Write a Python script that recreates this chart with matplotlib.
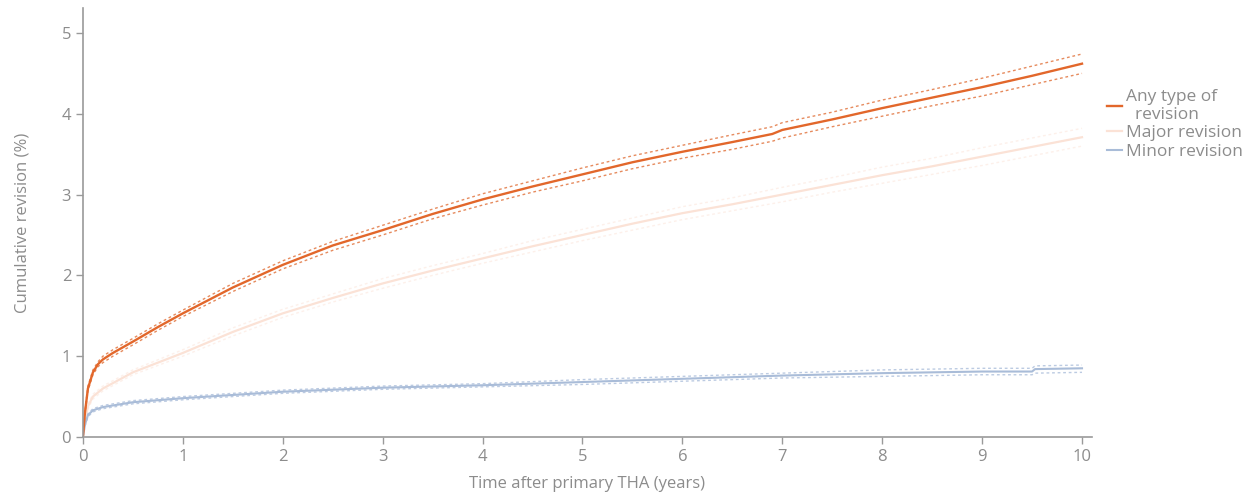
import matplotlib
matplotlib.use("Agg")
import matplotlib.pyplot as plt

plt.rcParams['font.family'] = ['Open Sans', 'DejaVu Sans']

# Cumulative revision (%) over years after primary THA, with 95% CI bounds
t_any = [0, 0.02, 0.05, 0.1, 0.15, 0.2, 0.3, 0.5, 0.75, 1, 1.5, 2, 2.5, 3, 3.5, 4,
         4.5, 5, 5.5, 6, 6.5, 6.9, 7, 7.5, 8, 8.5, 9, 9.5, 10]
any_mid = [0, 0.3, 0.6, 0.8, 0.9, 0.96, 1.04, 1.18, 1.36, 1.53, 1.85, 2.13, 2.37, 2.56,
           2.76, 2.94, 3.10, 3.25, 3.40, 3.53, 3.65, 3.75, 3.80, 3.93, 4.07, 4.20, 4.33,
           4.47, 4.62]
any_lo = [0, 0.28, 0.57, 0.77, 0.87, 0.92, 1.0, 1.14, 1.32, 1.49, 1.80, 2.08, 2.31, 2.50,
          2.70, 2.87, 3.03, 3.17, 3.32, 3.45, 3.56, 3.66, 3.70, 3.84, 3.97, 4.10, 4.22,
          4.36, 4.50]
any_hi = [0, 0.32, 0.63, 0.83, 0.93, 1.0, 1.08, 1.22, 1.40, 1.57, 1.90, 2.18, 2.42, 2.62,
          2.82, 3.01, 3.17, 3.33, 3.48, 3.61, 3.74, 3.84, 3.89, 4.02, 4.17, 4.30, 4.44,
          4.59, 4.74]

t_major = [0, 0.02, 0.05, 0.1, 0.2, 0.5, 1, 1.5, 2, 2.5, 3, 3.5, 4, 4.5, 5, 5.5, 6,
           6.5, 7, 7.5, 8, 8.5, 9, 9.5, 10]
major_mid = [0, 0.2, 0.38, 0.5, 0.6, 0.8, 1.04, 1.3, 1.53, 1.72, 1.9, 2.06, 2.21, 2.36,
             2.5, 2.64, 2.77, 2.88, 3.0, 3.12, 3.24, 3.35, 3.47, 3.59, 3.71]
major_lo = [0, 0.18, 0.35, 0.47, 0.57, 0.77, 1.0, 1.25, 1.48, 1.67, 1.84, 2.0, 2.15, 2.29,
            2.43, 2.56, 2.69, 2.8, 2.91, 3.03, 3.14, 3.25, 3.36, 3.48, 3.6]
major_hi = [0, 0.22, 0.41, 0.53, 0.63, 0.83, 1.08, 1.35, 1.58, 1.77, 1.96, 2.12, 2.27,
            2.43, 2.57, 2.71, 2.85, 2.96, 3.09, 3.21, 3.34, 3.45, 3.58, 3.70, 3.82]

t_minor = [0, 0.02, 0.05, 0.1, 0.2, 0.5, 1, 1.5, 2, 3, 4, 5, 6, 7, 8, 9, 9.5, 9.53, 10]
minor_mid = [0, 0.15, 0.27, 0.33, 0.37, 0.43, 0.48, 0.52, 0.56, 0.61, 0.64, 0.68, 0.72,
             0.76, 0.79, 0.81, 0.81, 0.84, 0.85]
minor_lo = [0, 0.13, 0.25, 0.31, 0.35, 0.41, 0.46, 0.5, 0.54, 0.59, 0.62, 0.65, 0.69,
            0.73, 0.75, 0.77, 0.77, 0.79, 0.80]
minor_hi = [0, 0.17, 0.29, 0.35, 0.39, 0.45, 0.50, 0.54, 0.58, 0.63, 0.66, 0.71, 0.75,
            0.79, 0.83, 0.85, 0.85, 0.88, 0.89]

labels = ['Any type of\n  revision', 'Major revision', 'Minor revision']
x_ticks = list(range(0, 11))
y_ticks = [0, 1, 2, 3, 4, 5]

grey = '#8c8c8c'
c_any = '#e2672b'
c_major = '#fbe2d6'
c_minor = '#a9bcd8'

fig = plt.figure(figsize=(12.51, 4.96), dpi=100)
ax = fig.add_axes([0.0663, 0.119, 0.8066, 0.865])

# confidence bands as dotted lines
ax.plot(t_major, major_lo, ls=(0, (2, 2)), lw=1.0, color='#fdf0ea')
ax.plot(t_major, major_hi, ls=(0, (2, 2)), lw=1.0, color='#fdf0ea')
ax.plot(t_major, major_mid, lw=1.6, color=c_major, label=labels[1])

ax.plot(t_minor, minor_lo, ls=(0, (2, 2)), lw=1.0, color='#bccbe2')
ax.plot(t_minor, minor_hi, ls=(0, (2, 2)), lw=1.0, color='#bccbe2')
ax.plot(t_minor, minor_mid, lw=1.5, color=c_minor, label=labels[2])

ax.plot(t_any, any_lo, ls=(0, (2, 2)), lw=1.0, color='#e68b5e')
ax.plot(t_any, any_hi, ls=(0, (2, 2)), lw=1.0, color='#e68b5e')
ax.plot(t_any, any_mid, lw=1.7, color=c_any, label=labels[0])

ax.set_xlim(0, 10.1)
ax.set_ylim(0, 5.31)
ax.set_xticks(x_ticks)
ax.set_yticks(y_ticks)

for side in ['top', 'right']:
    ax.spines[side].set_visible(False)
for side in ['left', 'bottom']:
    ax.spines[side].set_color('#9a9a9a')
    ax.spines[side].set_linewidth(1.2)
ax.tick_params(colors='#9a9a9a', labelcolor=grey, labelsize=12, length=5, width=1)

ax.set_xlabel('Time after primary THA (years)', color=grey, fontsize=12, labelpad=8)
ax.set_ylabel('Cumulative revision (%)', color=grey, fontsize=12, labelpad=22)

handles, labs = ax.get_legend_handles_labels()
order = [labs.index(l) for l in labels]
leg = ax.legend([handles[i] for i in order], [labs[i] for i in order],
                loc='upper left', bbox_to_anchor=(0.999, 0.848), frameon=False,
                handlelength=0.9, handletextpad=0.2, labelspacing=0.12,
                fontsize=12.5, labelcolor=grey)

fig.savefig('out.png', dpi=100)
